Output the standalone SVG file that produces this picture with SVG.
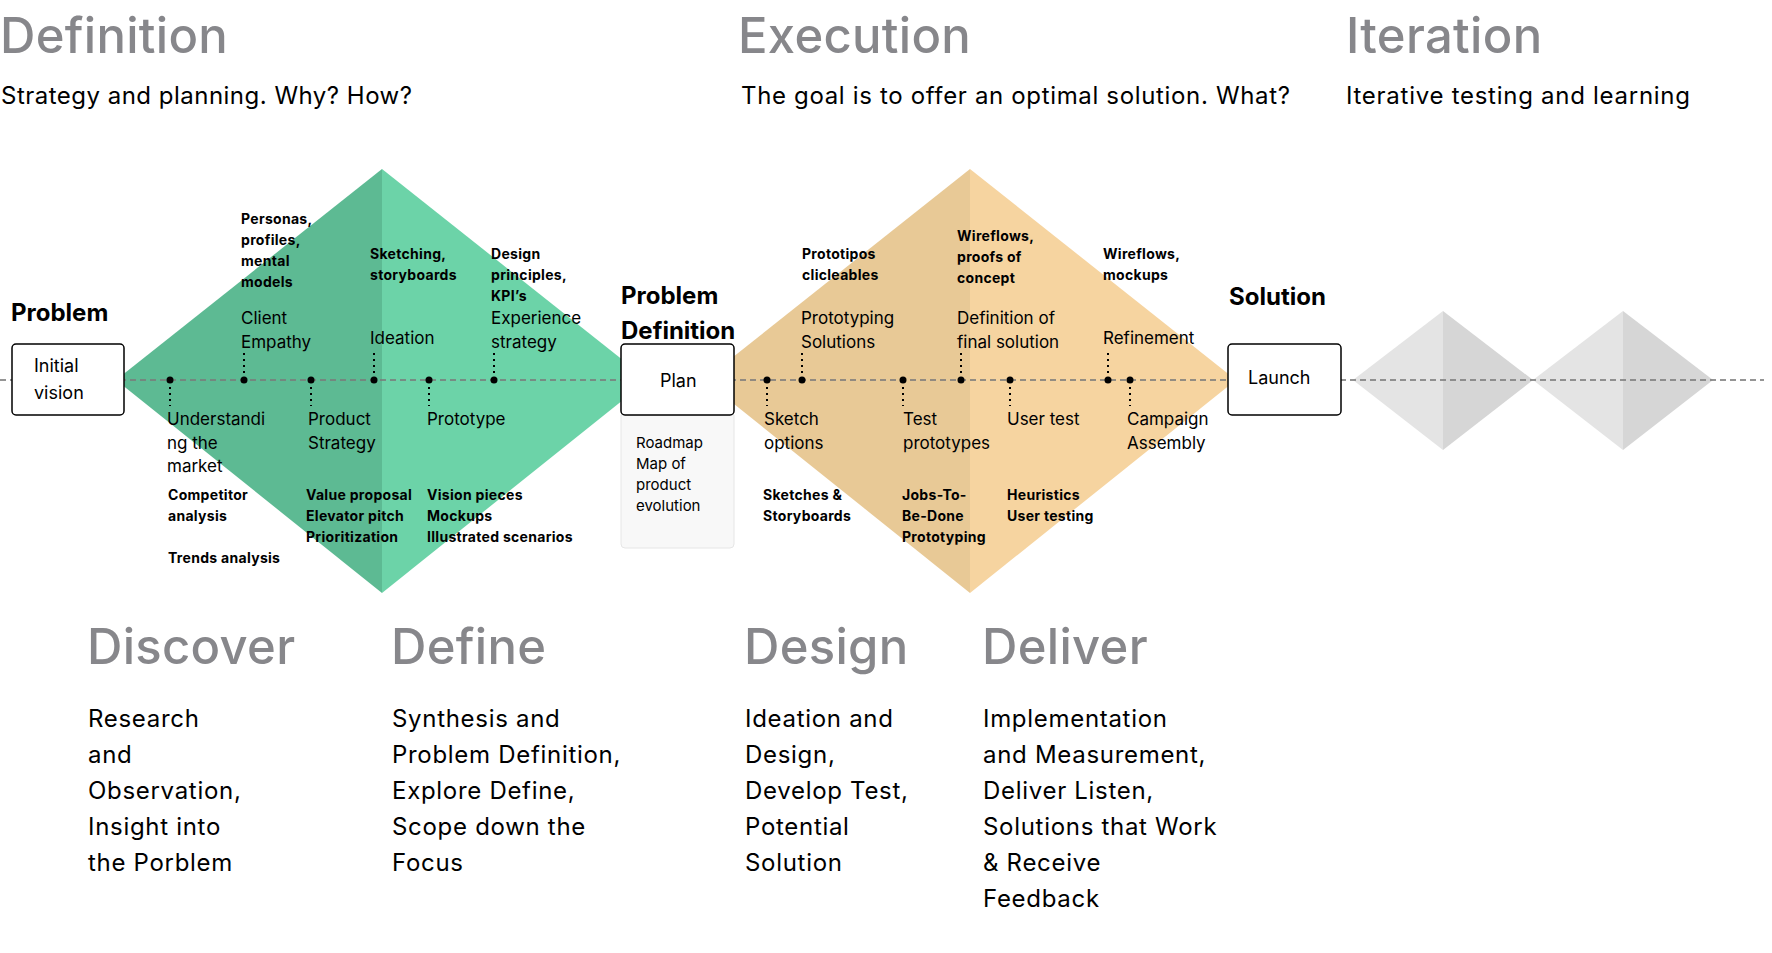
<svg xmlns="http://www.w3.org/2000/svg" width="1772" height="953" viewBox="0 0 1772 953">
<style>
text{font-family:Inter,"Open Sans","Liberation Sans",sans-serif;fill:#000}
.title{font-size:49px;font-weight:500;fill:#87878B;letter-spacing:.3px}
.sub{font-size:24px;font-weight:400}
.head{font-size:24px;font-weight:700}
.box{font-size:18px}
.lbl{font-size:17px}
.b{font-size:14px;font-weight:700;letter-spacing:.3px}
.rm{font-size:15px}
.body{font-size:24px;letter-spacing:.7px}
.nd{fill:#fff;stroke:#000;stroke-width:1.5}
.main{stroke:#7a7a7a;stroke-opacity:.8;stroke-width:2;stroke-dasharray:6 4;fill:none}
.stub{stroke:#000;stroke-width:2;stroke-dasharray:2 4;fill:none}
.dot{fill:#000}
</style>
<rect width="1772" height="953" fill="#fff"/>
<g id="headers">
<text class="title" x="0" y="53">Definition</text>
<text class="sub" x="1" y="104" textLength="411" lengthAdjust="spacing">Strategy and planning. Why? How?</text>
<text class="title" x="738" y="53">Execution</text>
<text class="sub" x="741" y="104" textLength="549" lengthAdjust="spacing">The goal is to offer an optimal solution. What?</text>
<text class="title" x="1346" y="53">Iteration</text>
<text class="sub" x="1346" y="104" textLength="344" lengthAdjust="spacing">Iterative testing and learning</text>
</g>
<g id="diamonds">
<polygon points="116,380 382,169 382,593" fill="#5DBA93"/>
<polygon points="382,169 648,380 382,593" fill="#6CD3A8"/>
<polygon points="704,380 970,169 970,593" fill="#E8C996"/>
<polygon points="970,169 1236,380 970,593" fill="#F6D4A0"/>
<polygon points="1353,380 1443,311 1443,450" fill="#E4E4E4"/>
<polygon points="1443,311 1533,380 1443,450" fill="#D6D6D6"/>
<polygon points="1533,380 1623,311 1623,450" fill="#E4E4E4"/>
<polygon points="1623,311 1713,380 1623,450" fill="#D6D6D6"/>
</g>
<g id="connectors">
<line class="main" x1="0" y1="380" x2="1764" y2="380"/>
<path class="stub" d="M170 387V406M244 373V353M311 387V406M374 373V353M429 387V406M494 373V353M767 387V406M802 373V353M903 387V406M961 373V353M1010 387V406M1108 373V353M1130 387V406"/>
<g class="dot">
<circle cx="170" cy="380" r="3.5"/><circle cx="244" cy="380" r="3.5"/><circle cx="311" cy="380" r="3.5"/><circle cx="374" cy="380" r="3.5"/><circle cx="429" cy="380" r="3.5"/><circle cx="494" cy="380" r="3.5"/>
<circle cx="767" cy="380" r="3.5"/><circle cx="802" cy="380" r="3.5"/><circle cx="903" cy="380" r="3.5"/><circle cx="961" cy="380" r="3.5"/><circle cx="1010" cy="380" r="3.5"/><circle cx="1108" cy="380" r="3.5"/><circle cx="1130" cy="380" r="3.5"/>
</g>
</g>
<g id="node-problem">
<text class="head" x="11" y="321">Problem</text>
<rect class="nd" x="12" y="344" width="112" height="71" rx="4"/>
<text class="box" x="34" y="372">Initial</text>
<text class="box" x="34" y="399">vision</text>
</g>
<g id="node-plan">
<text class="head" x="621" y="304">Problem</text>
<text class="head" x="621" y="339">Definition</text>
<path d="M621 415H734V544a4 4 0 0 1-4 4H625a4 4 0 0 1-4-4Z" fill="#F8F8F8" stroke="#E6E6E6" stroke-width="1"/>
<rect class="nd" x="621" y="344" width="113" height="71" rx="4"/>
<text class="box" x="660" y="387">Plan</text>
<text class="rm" x="636" y="448">Roadmap</text>
<text class="rm" x="636" y="469">Map of</text>
<text class="rm" x="636" y="490">product</text>
<text class="rm" x="636" y="511">evolution</text>
</g>
<g id="node-launch">
<text class="head" x="1229" y="305">Solution</text>
<rect class="nd" x="1228" y="344" width="113" height="71" rx="4"/>
<text class="box" x="1248" y="384">Launch</text>
</g>
<g id="discover-labels">
<text class="b" x="241" y="224">Personas,</text>
<text class="b" x="241" y="245">profiles,</text>
<text class="b" x="241" y="266">mental</text>
<text class="b" x="241" y="287">models</text>
<text class="lbl" x="241" y="324">Client</text>
<text class="lbl" x="241" y="348">Empathy</text>
<text class="lbl" x="167" y="425">Understandi</text>
<text class="lbl" x="167" y="449">ng the</text>
<text class="lbl" x="167" y="472">market</text>
<text class="b" x="168" y="500">Competitor</text>
<text class="b" x="168" y="521">analysis</text>
<text class="b" x="168" y="563">Trends analysis</text>
<text class="lbl" x="308" y="425">Product</text>
<text class="lbl" x="308" y="449">Strategy</text>
<text class="b" x="306" y="500">Value proposal</text>
<text class="b" x="306" y="521">Elevator pitch</text>
<text class="b" x="306" y="542">Prioritization</text>
</g>
<g id="define-labels">
<text class="b" x="370" y="259">Sketching,</text>
<text class="b" x="370" y="280">storyboards</text>
<text class="lbl" x="370" y="344">Ideation</text>
<text class="b" x="491" y="259">Design</text>
<text class="b" x="491" y="280">principles,</text>
<text class="b" x="491" y="301">KPI’s</text>
<text class="lbl" x="491" y="324">Experience</text>
<text class="lbl" x="491" y="348">strategy</text>
<text class="lbl" x="427" y="425">Prototype</text>
<text class="b" x="427" y="500">Vision pieces</text>
<text class="b" x="427" y="521">Mockups</text>
<text class="b" x="427" y="542">Illustrated scenarios</text>
</g>
<g id="design-labels">
<text class="b" x="802" y="259">Prototipos</text>
<text class="b" x="802" y="280">clicleables</text>
<text class="lbl" x="801" y="324">Prototyping</text>
<text class="lbl" x="801" y="348">Solutions</text>
<text class="lbl" x="764" y="425">Sketch</text>
<text class="lbl" x="764" y="449">options</text>
<text class="b" x="763" y="500">Sketches &amp;</text>
<text class="b" x="763" y="521">Storyboards</text>
<text class="lbl" x="903" y="425">Test</text>
<text class="lbl" x="903" y="449">prototypes</text>
<text class="b" x="902" y="500">Jobs-To-</text>
<text class="b" x="902" y="521">Be-Done</text>
<text class="b" x="902" y="542">Prototyping</text>
</g>
<g id="deliver-labels">
<text class="b" x="957" y="241">Wireflows,</text>
<text class="b" x="957" y="262">proofs of</text>
<text class="b" x="957" y="283">concept</text>
<text class="lbl" x="957" y="324">Definition of</text>
<text class="lbl" x="957" y="348">final solution</text>
<text class="lbl" x="1007" y="425">User test</text>
<text class="b" x="1007" y="500">Heuristics</text>
<text class="b" x="1007" y="521">User testing</text>
<text class="b" x="1103" y="259">Wireflows,</text>
<text class="b" x="1103" y="280">mockups</text>
<text class="lbl" x="1103" y="344">Refinement</text>
<text class="lbl" x="1127" y="425">Campaign</text>
<text class="lbl" x="1127" y="449">Assembly</text>
</g>
<g id="phases">
<text class="title" x="87" y="664">Discover</text>
<text class="body" x="88" y="727">Research</text>
<text class="body" x="88" y="763">and</text>
<text class="body" x="88" y="799">Observation,</text>
<text class="body" x="88" y="835">Insight into</text>
<text class="body" x="88" y="871">the Porblem</text>
<text class="title" x="391" y="664">Define</text>
<text class="body" x="392" y="727">Synthesis and</text>
<text class="body" x="392" y="763">Problem Definition,</text>
<text class="body" x="392" y="799">Explore Define,</text>
<text class="body" x="392" y="835">Scope down the</text>
<text class="body" x="392" y="871">Focus</text>
<text class="title" x="744" y="664">Design</text>
<text class="body" x="745" y="727">Ideation and</text>
<text class="body" x="745" y="763">Design,</text>
<text class="body" x="745" y="799">Develop Test,</text>
<text class="body" x="745" y="835">Potential</text>
<text class="body" x="745" y="871">Solution</text>
<text class="title" x="982" y="664">Deliver</text>
<text class="body" x="983" y="727">Implementation</text>
<text class="body" x="983" y="763">and Measurement,</text>
<text class="body" x="983" y="799">Deliver Listen,</text>
<text class="body" x="983" y="835">Solutions that Work</text>
<text class="body" x="983" y="871">&amp; Receive</text>
<text class="body" x="983" y="907">Feedback</text>
</g>
</svg>
